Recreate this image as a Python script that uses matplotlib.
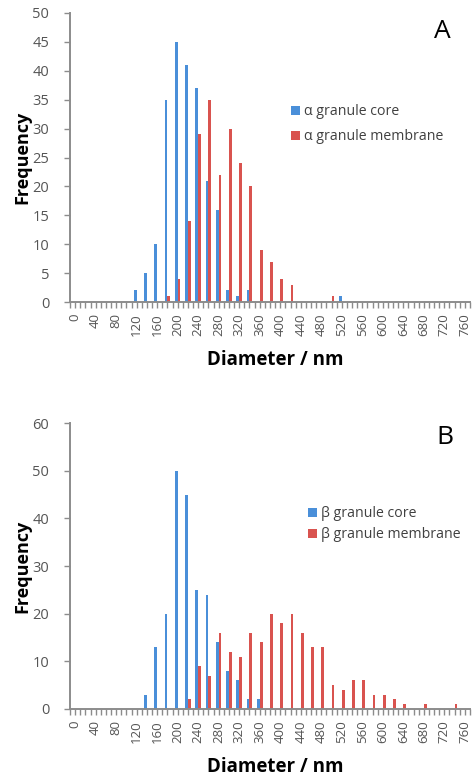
import numpy as np
import matplotlib
matplotlib.use("Agg")
import matplotlib.pyplot as plt

plt.rcParams['font.family'] = ['Open Sans', 'DejaVu Sans']

# diameter bins (nm), 20 nm wide, 0..760
diameters = list(range(0, 780, 20))
tick_labels = [str(d) for d in range(0, 780, 40)]

# panel A: alpha granules
alpha_core = {120: 2, 140: 5, 160: 10, 180: 35, 200: 45, 220: 41, 240: 37,
              260: 21, 280: 16, 300: 2, 320: 1, 340: 2, 520: 1}
alpha_membrane = {180: 1, 200: 4, 220: 14, 240: 29, 260: 35, 280: 22, 300: 30,
                  320: 24, 340: 20, 360: 9, 380: 7, 400: 4, 420: 3, 500: 1}

# panel B: beta granules
beta_core = {140: 3, 160: 13, 180: 20, 200: 50, 220: 45, 240: 25, 260: 24,
             280: 14, 300: 8, 320: 6, 340: 2, 360: 2}
beta_membrane = {220: 2, 240: 9, 260: 7, 280: 16, 300: 12, 320: 11, 340: 16,
                 360: 14, 380: 20, 400: 18, 420: 20, 440: 16, 460: 13, 480: 13,
                 500: 5, 520: 4, 540: 6, 560: 6, 580: 3, 600: 3, 620: 2, 640: 1,
                 680: 1, 740: 1}

BLUE = "#4a8fd9"
RED = "#d9534f"
AXIS_GREY = "#8c8c8c"
TEXT_GREY = "#555555"
W = 5.4  # bar width in nm


def counts(d):
    return [d.get(x, 0) for x in diameters]


def draw_panel(ax, core, membrane, core_label, mem_label, ymax, ystep, letter,
               legend_xy, spacing, letter_xy, xlabel_y):
    x = np.array(diameters)
    ax.bar(x - W / 2, counts(core), width=W, color=BLUE, label=core_label)
    ax.bar(x + W / 2, counts(membrane), width=W, color=RED, label=mem_label)

    ax.set_xlim(-10, 770)
    ax.set_ylim(0, ymax)
    ax.set_yticks(np.arange(0, ymax + 1, ystep))
    ax.set_xticks(range(0, 780, 40))
    ax.set_xticklabels(tick_labels, rotation=90)
    ax.set_xticks(np.arange(-10, 780, 10), minor=True)

    for side in ['top', 'right']:
        ax.spines[side].set_visible(False)
    for side in ['left', 'bottom']:
        ax.spines[side].set_color(AXIS_GREY)
        ax.spines[side].set_linewidth(1.4)

    ax.tick_params(axis='both', which='both', color=AXIS_GREY, width=1,
                   length=4, labelcolor=TEXT_GREY)
    ax.tick_params(axis='x', which='both', pad=4, labelsize=9.5)
    ax.tick_params(axis='y', pad=11, labelsize=10.5)

    ax.set_ylabel("Frequency", fontsize=13, fontweight='bold', va='center')
    ax.yaxis.set_label_coords(-0.12, 0.5)
    ax.set_xlabel("Diameter / nm", fontsize=13.5, fontweight='bold', va='center')
    ax.xaxis.set_label_coords(0.5125, xlabel_y)

    ax.legend(loc='upper left', bbox_to_anchor=legend_xy,
              bbox_transform=fig.transFigure, frameon=False, fontsize=10.2,
              handlelength=0.6, handleheight=0.6, handletextpad=0.3,
              labelspacing=spacing, borderpad=0, labelcolor='#404040')

    fig.text(letter_xy[0], letter_xy[1], letter, fontsize=19,
             ha='center', va='center')


fig = plt.figure(figsize=(4.72, 7.81), dpi=100)

ax_a = fig.add_axes([70 / 472, 1 - 302 / 781, 400 / 472, 289 / 781])
draw_panel(ax_a, alpha_core, alpha_membrane,
           "\u03b1 granule core", "\u03b1 granule membrane",
           50, 5, "A", (284 / 472, 1 - 97 / 781), 0.7,
           (442 / 472, 1 - 31 / 781), -0.2)

ax_b = fig.add_axes([70 / 472, 1 - 709 / 781, 400 / 472, 286 / 781])
draw_panel(ax_b, beta_core, beta_membrane,
           "\u03b2 granule core", "\u03b2 granule membrane",
           60, 10, "B", (301 / 472, 1 - 499 / 781), 0.45,
           (445 / 472, 1 - 438 / 781), -0.203)

fig.savefig("out.png", dpi=100)
